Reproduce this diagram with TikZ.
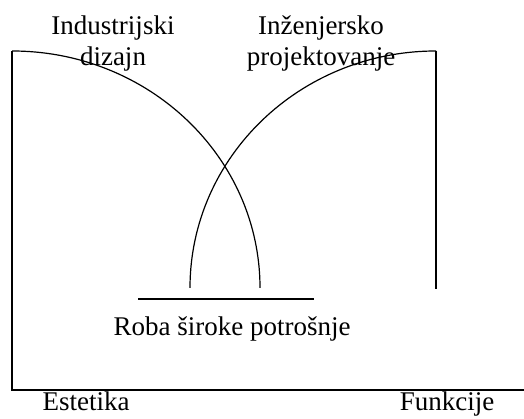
\documentclass[tikz,border=0pt]{standalone}
\usepackage{fontspec}
\setmainfont{Liberation Serif}
\begin{document}
\begin{tikzpicture}[
    x=1pt, y=1pt,
    txt/.style={inner sep=0pt, font=\fontsize{27}{31}\selectfont, align=center},
    line width=1.2pt
  ]
  \useasboundingbox (0,0) rectangle (524,419);
  \coordinate (lt) at (12,368);
  \coordinate (lb) at (12,29);
  \coordinate (rb) at (524,29);
  \coordinate (rt) at (436,368);
  \coordinate (rd) at (436,130);
  \coordinate (ha) at (138,120);
  \coordinate (hb) at (314,120);
  \node[txt, anchor=base] (ind) at (113,353) {Industrijski\\dizajn};
  \node[txt, anchor=base] (inz) at (321,353) {Inženjersko\\projektovanje};
  \node[txt, anchor=base] (roba) at (232,83) {Roba široke potrošnje};
  \node[txt, anchor=base] (est) at (86,8) {Estetika};
  \node[txt, anchor=base] (fun) at (447,8) {Funkcije};
  \draw (lt) -- (lb) -- (rb);
  \draw (lt) arc[start angle=90, end angle=0, x radius=248, y radius=237];
  \draw (rt) arc[start angle=90, end angle=180, x radius=246, y radius=237];
  \draw (rt) -- (rd);
  \draw (ha) -- (hb);
\end{tikzpicture}
\end{document}
